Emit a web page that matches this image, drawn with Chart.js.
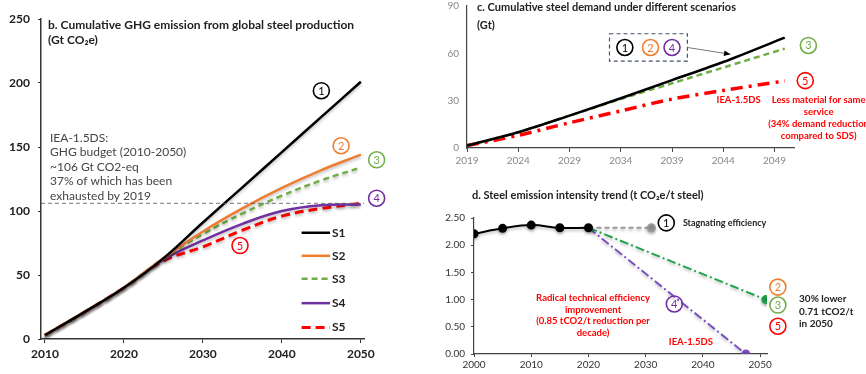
<!DOCTYPE html>
<html>
<head>
<meta charset="utf-8">
<script src="https://cdn.jsdelivr.net/npm/chart.js@4/dist/chart.umd.min.js"></script>
<style>
  body { margin: 0; background: #fff; width: 866px; height: 374px; overflow: hidden; position: relative; }
  canvas { position: absolute; }
  #b { left: 0; top: 0; }
  #c { left: 380px; top: -8px; }
  #d { left: 380px; top: 180px; }
</style>
</head>
<body>
<canvas id="b" width="400" height="374"></canvas>
<canvas id="c" width="486" height="188"></canvas>
<canvas id="d" width="486" height="194"></canvas>
<script>
// panel b: cumulative GHG emission (Gt CO2e)
const bYears = [2010, 2015, 2020, 2025, 2030, 2035, 2040, 2045, 2050];
const bS1 = [3, 21, 40, 63, 91, 118.5, 146, 173.5, 201];
const bS2 = [3, 21, 40, 63, 84, 102, 118, 132, 144];
const bS3 = [3, 21, 40, 63, 82, 98, 112, 124, 134];
const bS4 = [3, 21, 40, 62, 77, 90, 100, 104.5, 105];
const bS5 = [3, 21, 40, 61, 72, 85, 96, 102, 106];
const bBudget = 106;

// panel c: cumulative steel demand (Gt)
const cYears = [2019, 2024, 2029, 2034, 2039, 2044, 2050];
const cS1 = [1.5, 10, 20.5, 31.5, 43, 54.5, 70];
const cS3 = [1.5, 10, 20.5, 31, 41, 51, 63];
const cS5 = [1.5, 8, 16, 23.5, 31, 36.5, 42.5];

// panel d: emission intensity (t CO2e / t steel)
const dHistYears = [2000, 2005, 2010, 2015, 2020];
const dHist = [2.21, 2.31, 2.37, 2.32, 2.32];
const dStagYears = [2020, 2031];
const dStag = [2.32, 2.32];
const dGreenYears = [2020, 2051];
const dGreen = [2.32, 1.0];
const dPurpleYears = [2020, 2047.5];
const dPurple = [2.32, 0.0];

const BLACK = '#000000', ORANGE = '#ED7D31', GREEN = '#70AD47', PURPLE = '#7030A0', RED = '#FF0000';
const FONT = 'Lato, "Open Sans", sans-serif';

const pts = (xs, ys) => xs.map((x, i) => ({ x: x, y: ys[i] }));
const at = (chart, x, y) => [chart.scales.x.getPixelForValue(x), chart.scales.y.getPixelForValue(y)];
const plain = v => String(v);

function circled(ctx, p, n, color) {
  ctx.save();
  ctx.beginPath();
  ctx.arc(p[0], p[1], 8, 0, Math.PI * 2);
  ctx.strokeStyle = color;
  ctx.lineWidth = 1.6;
  ctx.setLineDash([]);
  ctx.stroke();
  ctx.fillStyle = color;
  ctx.font = '11px ' + FONT;
  ctx.textAlign = 'center';
  ctx.textBaseline = 'middle';
  ctx.fillText(n, p[0], p[1] + 0.5);
  ctx.restore();
}

function lines(ctx, arr, x, y, lh, font, color, align) {
  ctx.save();
  ctx.font = font;
  ctx.fillStyle = color;
  ctx.textAlign = align || 'left';
  ctx.textBaseline = 'middle';
  arr.forEach((t, i) => ctx.fillText(t, x, y + i * lh));
  ctx.restore();
}

function shadow(chart) {
  const ctx = chart.ctx;
  ctx.save();
  ctx.shadowColor = 'rgba(0,0,0,0.25)';
  ctx.shadowBlur = 3;
  ctx.shadowOffsetY = 2;
}

// ---------- b ----------
new Chart(document.getElementById('b'), {
  type: 'line',
  data: {
    datasets: [
      { label: 'S1', data: pts(bYears, bS1), borderColor: BLACK, borderWidth: 2.5 },
      { label: 'S2', data: pts(bYears, bS2), borderColor: ORANGE, borderWidth: 2.5 },
      { label: 'S3', data: pts(bYears, bS3), borderColor: GREEN, borderWidth: 2.5, borderDash: [6, 4] },
      { label: 'S4', data: pts(bYears, bS4), borderColor: PURPLE, borderWidth: 2.5 },
      { label: 'S5', data: pts(bYears, bS5), borderColor: RED, borderWidth: 3, borderDash: [9, 5] }
    ]
  },
  options: {
    responsive: false,
    animation: false,
    layout: { padding: { top: 19, right: 36, left: 0, bottom: 0 } },
    elements: { point: { radius: 0 }, line: { tension: 0.4 } },
    plugins: { legend: { display: false }, tooltip: { enabled: false } },
    scales: {
      x: {
        type: 'linear', min: 2009.5, max: 2050.4,
        afterBuildTicks: s => { s.ticks = [2010, 2020, 2030, 2040, 2050].map(v => ({ value: v })); },
        afterFit: s => { s.height = 35; },
        border: { color: '#333', width: 1.5 },
        grid: { drawOnChartArea: false, tickLength: 4, color: '#333' },
        ticks: { color: '#222', font: { family: FONT, size: 12, weight: 'bold' }, padding: 4, maxRotation: 0, callback: plain }
      },
      y: {
        min: 0, max: 250,
        ticks: { stepSize: 50, color: '#222', font: { family: FONT, size: 12, weight: 'bold' }, padding: 8 },
        afterFit: s => { s.width = 41; },
        border: { color: '#333', width: 1.5 },
        grid: { drawOnChartArea: false, tickLength: 3, color: '#333' }
      }
    }
  },
  plugins: [{
    id: 'bNotes',
    beforeDatasetsDraw: chart => shadow(chart),
    afterDatasetsDraw: chart => chart.ctx.restore(),
    afterDraw(chart) {
      const ctx = chart.ctx, ca = chart.chartArea;
      const yb = chart.scales.y.getPixelForValue(bBudget);
      ctx.save();
      ctx.strokeStyle = '#555';
      ctx.lineWidth = 0.8;
      ctx.setLineDash([4, 3]);
      ctx.beginPath();
      ctx.moveTo(ca.left, yb);
      ctx.lineTo(ca.right, yb);
      ctx.stroke();
      ctx.restore();

      lines(ctx, ['b. Cumulative GHG emission from global steel production', '(Gt CO\u2082e)'],
        48, 25, 15, 'bold 12px ' + FONT, '#222');
      lines(ctx, ['IEA-1.5DS:', 'GHG budget (2010-2050)', '~106 Gt CO2-eq', '37% of which has been', 'exhausted by 2019'],
        50, 138, 14.5, '12px ' + FONT, '#444');

      circled(ctx, at(chart, 2045, 194), '1', BLACK);
      circled(ctx, at(chart, 2047.5, 151), '2', ORANGE);
      circled(ctx, at(chart, 2052, 140), '3', GREEN);
      circled(ctx, at(chart, 2052, 110), '4', PURPLE);
      circled(ctx, at(chart, 2034.7, 73), '5', RED);

      // legend
      const legY = [83, 65, 47, 28, 9];
      chart.data.datasets.forEach((ds, i) => {
        const a = at(chart, 2042.5, legY[i]), b = at(chart, 2046.1, legY[i]);
        ctx.save();
        ctx.strokeStyle = ds.borderColor;
        ctx.lineWidth = ds.borderWidth;
        ctx.setLineDash(ds.borderDash || []);
        ctx.beginPath();
        ctx.moveTo(a[0], a[1]);
        ctx.lineTo(b[0], b[1]);
        ctx.stroke();
        ctx.restore();
        lines(ctx, [ds.label], b[0] + 2, a[1], 0, 'bold 12px ' + FONT, '#222');
      });
    }
  }]
});

// ---------- c ----------
new Chart(document.getElementById('c'), {
  type: 'line',
  data: {
    datasets: [
      { data: pts(cYears, cS1), borderColor: BLACK, borderWidth: 2.5 },
      { data: pts(cYears, cS3), borderColor: GREEN, borderWidth: 2.5, borderDash: [6, 4] },
      { data: pts(cYears, cS5), borderColor: RED, borderWidth: 3.5, borderDash: [12, 6, 3, 6] }
    ]
  },
  options: {
    responsive: false,
    animation: false,
    layout: { padding: { top: 10.5, right: 72, left: 0, bottom: 0 } },
    elements: { point: { radius: 0 }, line: { tension: 0.3 } },
    plugins: { legend: { display: false }, tooltip: { enabled: false } },
    scales: {
      x: {
        type: 'linear', min: 2019, max: 2050.9,
        afterBuildTicks: s => { s.ticks = [2019, 2024, 2029, 2034, 2039, 2044, 2049].map(v => ({ value: v })); },
        afterFit: s => { s.height = 32; },
        border: { color: '#444', width: 1.2 },
        grid: { drawOnChartArea: false, tickLength: 4, color: '#444' },
        ticks: { color: '#888', font: { family: FONT, size: 10 }, padding: 3, maxRotation: 0, callback: plain }
      },
      y: {
        min: 0, max: 90,
        ticks: { stepSize: 30, color: '#888', font: { family: FONT, size: 10 }, padding: 8 },
        afterFit: s => { s.width = 87; },
        border: { color: '#444', width: 1.2 },
        grid: { drawOnChartArea: false, tickLength: 0 }
      }
    }
  },
  plugins: [{
    id: 'cNotes',
    afterDraw(chart) {
      const ctx = chart.ctx;
      lines(ctx, ['c. Cumulative steel demand under different scenarios', '(Gt)'], 97, 15, 18, 'bold 11px ' + FONT, '#222');

      const b0 = at(chart, 2032.9, 72.4), b1 = at(chart, 2040.5, 55);
      ctx.save();
      ctx.strokeStyle = '#44546A';
      ctx.lineWidth = 1.2;
      ctx.setLineDash([4, 3]);
      ctx.strokeRect(b0[0], b0[1], b1[0] - b0[0], b1[1] - b0[1]);
      ctx.restore();
      circled(ctx, at(chart, 2034.4, 63.7), '1', BLACK);
      circled(ctx, at(chart, 2036.9, 63.7), '2', ORANGE);
      circled(ctx, at(chart, 2039.0, 63.7), '4', PURPLE);

      const a0 = at(chart, 2040.5, 63.7), a1 = at(chart, 2044.7, 59.4);
      ctx.save();
      ctx.strokeStyle = '#777';
      ctx.lineWidth = 1;
      ctx.beginPath();
      ctx.moveTo(a0[0], a0[1]);
      ctx.lineTo(a1[0], a1[1]);
      ctx.stroke();
      const ang = Math.atan2(a1[1] - a0[1], a1[0] - a0[0]);
      ctx.fillStyle = '#000';
      ctx.beginPath();
      ctx.moveTo(a1[0], a1[1]);
      ctx.lineTo(a1[0] - 7 * Math.cos(ang - 0.4), a1[1] - 7 * Math.sin(ang - 0.4));
      ctx.lineTo(a1[0] - 7 * Math.cos(ang + 0.4), a1[1] - 7 * Math.sin(ang + 0.4));
      ctx.closePath();
      ctx.fill();
      ctx.restore();

      circled(ctx, at(chart, 2052.3, 65), '3', GREEN);
      circled(ctx, at(chart, 2052, 42.7), '5', RED);
      const t = at(chart, 2045.5, 30.3);
      lines(ctx, ['IEA-1.5DS'], t[0], t[1], 0, 'bold 9.5px ' + FONT, RED, 'center');
      const s = at(chart, 2053.3, 30.3);
      lines(ctx, ['Less material for same', 'service', '(34% demand reduction', 'compared to SDS)'],
        s[0], s[1], 11.8, 'bold 9.5px ' + FONT, RED, 'center');
    }
  }]
});

// ---------- d ----------
new Chart(document.getElementById('d'), {
  type: 'line',
  data: {
    datasets: [
      { data: pts(dHistYears, dHist), borderColor: BLACK, borderWidth: 2, tension: 0.4,
        pointRadius: 3.5, pointBackgroundColor: BLACK, pointBorderColor: BLACK },
      { data: pts(dStagYears, dStag), borderColor: '#999', borderWidth: 2, borderDash: [5, 3],
        pointRadius: [0, 3.5], pointBackgroundColor: '#999', pointBorderColor: '#999' },
      { data: pts(dGreenYears, dGreen), borderColor: '#1FA24A', borderWidth: 2, borderDash: [9, 3, 2, 3],
        pointRadius: [0, 3.5], pointBackgroundColor: '#1FA24A', pointBorderColor: '#1FA24A' },
      { data: pts(dPurpleYears, dPurple), borderColor: '#7B4FBF', borderWidth: 2, borderDash: [9, 3, 2, 3],
        pointRadius: [0, 3.5], pointBackgroundColor: '#7B4FBF', pointBorderColor: '#7B4FBF' }
    ]
  },
  options: {
    responsive: false,
    animation: false,
    layout: { padding: { top: 38, right: 99, left: 0, bottom: 0 } },
    plugins: { legend: { display: false }, tooltip: { enabled: false } },
    scales: {
      x: {
        type: 'linear', min: 2000, max: 2051.2,
        afterBuildTicks: s => { s.ticks = [2000, 2010, 2020, 2030, 2040, 2050].map(v => ({ value: v })); },
        afterFit: s => { s.height = 20; },
        border: { color: '#444', width: 1.2 },
        grid: { drawOnChartArea: false, tickLength: 3, color: '#444' },
        ticks: { color: '#333', font: { family: FONT, size: 10 }, padding: 2, maxRotation: 0, callback: plain }
      },
      y: {
        min: 0, max: 2.5,
        ticks: { stepSize: 0.5, color: '#333', font: { family: FONT, size: 10 }, padding: 6,
          callback: v => v.toFixed(2) },
        afterFit: s => { s.width = 94; },
        border: { color: '#444', width: 1.2 },
        grid: { drawOnChartArea: false, tickLength: 3, color: '#444' }
      }
    }
  },
  plugins: [{
    id: 'dNotes',
    beforeDatasetsDraw: chart => shadow(chart),
    afterDatasetsDraw: chart => chart.ctx.restore(),
    afterDraw(chart) {
      const ctx = chart.ctx;
      lines(ctx, ['d. Steel emission intensity trend (t CO\u2082e/t steel)'], 92, 15, 0, 'bold 11px ' + FONT, '#222');
      circled(ctx, at(chart, 2033.6, 2.41), '1', BLACK);
      const sg = at(chart, 2036.5, 2.41);
      lines(ctx, ['Stagnating efficiency'], sg[0], sg[1], 0, 'bold 9px ' + FONT, '#222');
      circled(ctx, at(chart, 2053.1, 1.23), '2', ORANGE);
      circled(ctx, at(chart, 2053.1, 0.90), '3', GREEN);
      circled(ctx, at(chart, 2053.1, 0.51), '5', RED);
      const lw = at(chart, 2056.8, 1.01);
      lines(ctx, ['30% lower', '0.71 tCO2/t', 'in 2050'], lw[0], lw[1], 12.5, 'bold 10px ' + FONT, '#222');
      circled(ctx, at(chart, 2035, 0.92), '4', PURPLE);
      const rd = at(chart, 2020.8, 1.03);
      lines(ctx, ['Radical technical efficiency', 'improvement', '(0.85 tCO2/t reduction per', 'decade)'],
        rd[0], rd[1], 11.7, 'bold 9.5px ' + FONT, RED, 'center');
      const ie = at(chart, 2037.9, 0.22);
      lines(ctx, ['IEA-1.5DS'], ie[0], ie[1], 0, 'bold 9.5px ' + FONT, RED, 'center');
    }
  }]
});
</script>
</body>
</html>
